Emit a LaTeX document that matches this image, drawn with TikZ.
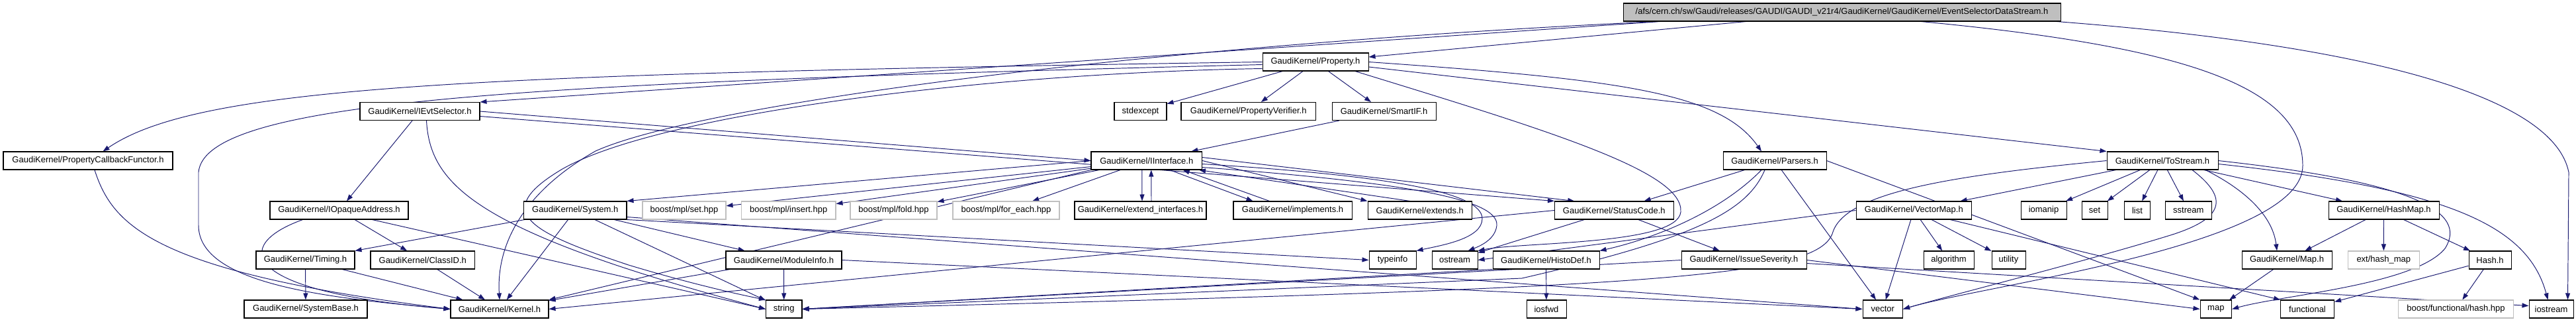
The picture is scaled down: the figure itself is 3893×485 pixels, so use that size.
\documentclass[tikz,border=0pt]{standalone}
\usepackage{fontspec}
\setmainfont{Liberation Sans}
\usetikzlibrary{arrows.meta, backgrounds}
\definecolor{edgeblue}{HTML}{191970}
\definecolor{boxgray}{HTML}{BFBFBF}
\tikzset{
  hdr/.style={draw=black, fill=white, line width=0.6pt, minimum height=0.54cm,
    inner xsep=1pt, inner ysep=0pt, font=\fontsize{7.4}{8}\selectfont},
  sysh/.style={hdr, draw=boxgray},
  mainfile/.style={hdr, fill=boxgray},
  wd/.style={minimum width=#1*0.02cm},
  dep/.style={draw=edgeblue, edgeblue, line width=0.55pt, -{Triangle[length=2mm,width=1.4mm]}},
}

\begin{document}
\begin{tikzpicture}[x=0.02cm, y=-0.02cm]
  \useasboundingbox (0,0) rectangle (3893,485);

  % File itself
  \node[mainfile, wd=661] (root) at (2783.5,18.5) {/afs/cern.ch/sw/Gaudi/releases/GAUDI/GAUDI\_v21r4/GaudiKernel/GaudiKernel/EventSelectorDataStream.h};

  % Rank 2 and 3
  \node[hdr, wd=160] (prop) at (1988,93.5) {GaudiKernel/Property.h};
  \node[hdr, wd=181] (evtsel) at (634.5,168) {GaudiKernel/IEvtSelector.h};
  \node[hdr, wd=79] (stdexc) at (1723.5,168) {stdexcept};
  \node[hdr, wd=203.5] (propver) at (1886.75,168) {GaudiKernel/PropertyVerifier.h};
  \node[hdr, wd=157] (smartif) at (2091.5,168) {GaudiKernel/SmartIF.h};

  % Rank 4
  \node[hdr, wd=256] (pcf) at (133,242.5) {GaudiKernel/PropertyCallbackFunctor.h};
  \node[hdr, wd=167.5] (iintf) at (1732.75,242.5) {GaudiKernel/IInterface.h};
  \node[hdr, wd=156] (parsers) at (2682,242.5) {GaudiKernel/Parsers.h};
  \node[hdr, wd=168] (tostream) at (3268,242.5) {GaudiKernel/ToStream.h};

  % Rank 5
  \node[hdr, wd=209] (opaque) at (512.5,317.5) {GaudiKernel/IOpaqueAddress.h};
  \node[hdr, wd=155.5] (system) at (869.25,317.5) {GaudiKernel/System.h};
  \node[sysh, wd=126] (mplset) at (1034,317.5) {boost/mpl/set.hpp};
  \node[sysh, wd=142.5] (mplins) at (1191.75,317.5) {boost/mpl/insert.hpp};
  \node[sysh, wd=131] (mplfold) at (1350.5,317.5) {boost/mpl/fold.hpp};
  \node[sysh, wd=161] (mplfe) at (1520.5,317.5) {boost/mpl/for\_each.hpp};
  \node[hdr, wd=199] (extif) at (1723.5,317.5) {GaudiKernel/extend\_interfaces.h};
  \node[hdr, wd=179] (impl) at (1953.5,317.5) {GaudiKernel/implements.h};
  \node[hdr, wd=157.5] (extends) at (2145.75,317.5) {GaudiKernel/extends.h};
  \node[hdr, wd=179.5] (status) at (2439.25,317.5) {GaudiKernel/StatusCode.h};
  \node[hdr, wd=174.6] (vmap) at (2892.3,317.5) {GaudiKernel/VectorMap.h};
  \node[hdr, wd=69] (iomanip) at (3088.5,317.5) {iomanip};
  \node[hdr, wd=39] (setH) at (3165.5,317.5) {set};
  \node[hdr, wd=39] (listH) at (3230,317.5) {list};
  \node[hdr, wd=70.6] (sstream) at (3307.3,317.5) {sstream};
  \node[hdr, wd=167] (hmap) at (3602.5,317.5) {GaudiKernel/HashMap.h};

  % Rank 6
  \node[hdr, wd=149] (timing) at (461.5,392.5) {GaudiKernel/Timing.h};
  \node[hdr, wd=157.5] (classid) at (638.75,392.5) {GaudiKernel/ClassID.h};
  \node[hdr, wd=175] (modinfo) at (1184.5,392.5) {GaudiKernel/ModuleInfo.h};
  \node[hdr, wd=71] (typeinfo) at (2104.5,392.5) {typeinfo};
  \node[hdr, wd=69] (ostream) at (2198.5,392.5) {ostream};
  \node[hdr, wd=161] (histo) at (2336.5,392.5) {GaudiKernel/HistoDef.h};
  \node[hdr, wd=189] (issue) at (2635.5,392.5) {GaudiKernel/IssueSeverity.h};
  \node[hdr, wd=76] (algo) at (2945,392.5) {algorithm};
  \node[hdr, wd=51] (utility) at (3035.5,392.5) {utility};
  \node[hdr, wd=136] (mapK) at (3456,392.5) {GaudiKernel/Map.h};
  \node[sysh, wd=107.4] (exthash) at (3602.3,392.5) {ext/hash\_map};
  \node[hdr, wd=64] (hashH) at (3763,392.5) {Hash.h};

  % Rank 7
  \node[hdr, wd=186] (sysbase) at (462,466.5) {GaudiKernel/SystemBase.h};
  \node[hdr, wd=148] (kernel) at (755,466.5) {GaudiKernel/Kernel.h};
  \node[hdr, wd=54.5] (string) at (1184.75,466.5) {string};
  \node[hdr, wd=60] (iosfwd) at (2337,466.5) {iosfwd};
  \node[hdr, wd=60.6] (vector) at (2845.3,466.5) {vector};
  \node[hdr, wd=47.6] (mapS) at (3348.8,466.5) {map};
  \node[hdr, wd=81] (functional) at (3487,466.5) {functional};
  \node[sysh, wd=174] (bhash) at (3711.5,466.5) {boost/functional/hash.hpp};
  \node[hdr, wd=67] (iostream) at (3855.5,466.5) {iostream};

  \begin{pgfonlayer}{background}
  % includes of the file itself
  \draw[dep] ([xshift=-5.5cm]root.south) -- (evtsel.north east);
  \draw[dep] ([xshift=-2.9cm]root.south) -- ([yshift=0.15cm]prop.east);
  \draw[dep] ([xshift=2.4cm]root.south) .. controls (3300,70) and (3480,130) .. (3480,250) .. controls (3480,370) and (3000,430) .. (vector.east);
  \draw[dep] ([xshift=6.5cm]root.south) .. controls (3600,70) and (3860,150) .. (3882,260) -- ([xshift=0.5cm]iostream.north);
  \draw[dep] ([xshift=-5.6cm]root.south) .. controls (1700,70) and (1050,160) .. (900,228) .. controls (790,290) and (750,370) .. (kernel.north);

  % Property.h
  \draw[dep] (prop.west) .. controls (700,112) and (300,130) .. ([xshift=0.45cm]pcf.north);
  \draw[dep] ([yshift=-0.08cm]prop.west) .. controls (800,125) and (310,150) .. (300,260) -- (300,340) .. controls (300,430) and (500,450) .. (kernel.west);
  \draw[dep] (prop) -- (stdexc);
  \draw[dep] (prop) -- (propver);
  \draw[dep] (prop) -- (smartif);
  \draw[dep] (prop.east) .. controls (2450,120) and (2600,140) .. ([xshift=-0.4cm]parsers.north);
  \draw[dep] ([yshift=-0.15cm]prop.east) -- (tostream.north west);
  \draw[dep] ([yshift=-0.2cm]prop.west) .. controls (1500,110) and (1000,170) .. (850,255) .. controls (740,320) and (800,350) .. (950,400) .. controls (1050,430) and (1120,445) .. (string.north west);
  \draw[dep] ([xshift=1.2cm]prop.south) .. controls (2350,200) and (2545,260) .. (2540,320) .. controls (2535,370) and (2300,365) .. (ostream.north east);

  % IEvtSelector.h
  \draw[dep] (evtsel.east) -- (iintf.west);
  \draw[dep] ([yshift=-0.15cm]evtsel.east) -- (status.north west);
  \draw[dep] (evtsel) -- (opaque);
  \draw[dep] ([xshift=0.2cm]evtsel.south) .. controls (650,280) and (720,350) .. (string.west);

  % PropertyCallbackFunctor.h
  \draw[dep] ([xshift=0.2cm]pcf.south) .. controls (170,340) and (230,410) .. (kernel.west);

  % IOpaqueAddress.h
  \draw[dep] ([xshift=-1.1cm]opaque.south) .. controls (350,370) and (360,440) .. (kernel.west);
  \draw[dep] (opaque) -- (classid);
  \draw[dep] ([xshift=1cm]opaque.south) -- (string.west);

  % ClassID.h and Timing.h
  \draw[dep] (classid) -- (kernel);
  \draw[dep] (timing) -- (sysbase);
  \draw[dep] (timing) -- (kernel);

  % System.h
  \draw[dep] (system) -- (timing.north east);
  \draw[dep] (system) -- (kernel);
  \draw[dep] (system) -- (modinfo);
  \draw[dep] (system) -- (string);
  \draw[dep] (system.south east) -- (typeinfo.west);
  \draw[dep] ([yshift=-0.2cm]system.east) -- (vector.west);

  % ModuleInfo.h
  \draw[dep] (modinfo) -- (kernel);
  \draw[dep] (modinfo) -- (string);
  \draw[dep] (modinfo.east) -- (vector.west);

  % SmartIF.h
  \draw[dep] (smartif) -- (iintf);

  % IInterface.h and its helpers
  \draw[dep] (iintf.west) -- (system.north east);
  \draw[dep] (iintf) -- (mplset);
  \draw[dep] (iintf) -- (mplins);
  \draw[dep] (iintf) -- (mplfold);
  \draw[dep] (iintf) -- (mplfe);
  \draw[dep] ([xshift=-0.14cm]iintf.south) -- ([xshift=0.05cm]extif.north);
  \draw[dep] ([xshift=0.33cm]extif.north) -- ([xshift=0.14cm]iintf.south);
  \draw[dep] ([xshift=0.7cm]iintf.south) -- ([xshift=-1.2cm]impl.north);
  \draw[dep] ([xshift=-0.7cm]impl.north) -- ([xshift=1.1cm]iintf.south);
  \draw[dep] (iintf.east) -- (extends.north west);
  \draw[dep] ([xshift=-0.3cm]extends.north) -- ([xshift=-0.1cm]iintf.south east);
  \draw[dep] ([yshift=0.1cm]iintf.east) -- ([xshift=-1.2cm]status.north);
  \draw[dep] ([yshift=-0.1cm]iintf.east) .. controls (2100,265) and (2240,290) .. (2240,330) .. controls (2240,360) and (2180,370) .. (typeinfo.north east);
  \draw[dep] ([yshift=-0.2cm]iintf.east) .. controls (2120,275) and (2265,300) .. (2262,340) .. controls (2260,360) and (2240,370) .. ([xshift=0.4cm]ostream.north);
  \draw[dep] (iintf.south west) -- (kernel.north east);

  % StatusCode.h
  \draw[dep] (status.west) -- (kernel.east);
  \draw[dep] (status) -- (ostream);
  \draw[dep] (status) -- (issue);

  % IssueSeverity.h
  \draw[dep] (issue.west) -- (string.east);
  \draw[dep] (issue.east) -- (mapS.west);
  \draw[dep] ([yshift=-0.1cm]issue.east) -- ([yshift=0.1cm]iostream.west);

  % HistoDef.h
  \draw[dep] (histo) -- (iosfwd);
  \draw[dep] (histo.south west) -- (string.east);

  % Parsers.h
  \draw[dep] (parsers) -- (status);
  \draw[dep] ([xshift=-0.4cm]parsers.south) .. controls (2600,320) and (2500,360) .. (histo.north east);
  \draw[dep] ([xshift=-0.3cm]parsers.south) .. controls (2640,320) and (2560,360) .. (2300,420) -- (string.east);
  \draw[dep] (parsers) -- (vector);
  \draw[dep] (parsers.east) -- (mapS.north west);

  % ToStream.h
  \draw[dep] (tostream) -- (vmap);
  \draw[dep] (tostream) -- (iomanip);
  \draw[dep] (tostream) -- (setH);
  \draw[dep] (tostream) -- (listH);
  \draw[dep] (tostream) -- (sstream);
  \draw[dep] (tostream) -- (hmap);
  \draw[dep] ([xshift=1.3cm]tostream.south) .. controls (3400,290) and (3435,330) .. ([xshift=-0.3cm]mapK.north);
  \draw[dep] (tostream.east) .. controls (3650,275) and (3730,320) .. (3695,375) .. controls (3650,430) and (3450,445) .. (mapS.east);
  \draw[dep] ([yshift=-0.1cm]tostream.east) .. controls (3700,285) and (3820,340) .. ([xshift=-0.1cm]iostream.north);
  \draw[dep] (tostream.west) .. controls (2950,265) and (2790,290) .. (2770,350) .. controls (2750,420) and (2500,435) .. (string.east);
  \draw[dep] ([xshift=0.9cm]tostream.south) .. controls (3370,300) and (3360,330) .. (3280,355) .. controls (3150,395) and (2950,445) .. (vector.east);

  % VectorMap.h
  \draw[dep] (vmap) -- (vector);
  \draw[dep] (vmap) -- (algo);
  \draw[dep] (vmap) -- (utility);
  \draw[dep] ([xshift=1.1cm]vmap.south) -- (functional.north west);
  \draw[dep] (vmap.west) -- (ostream.east);

  % HashMap.h, Map.h, Hash.h
  \draw[dep] (hmap) -- (mapK);
  \draw[dep] (hmap) -- (exthash);
  \draw[dep] (hmap) -- (hashH);
  \draw[dep] (mapK) -- (mapS);
  \draw[dep] (hashH) -- (functional);
  \draw[dep] (hashH) -- (bhash);
  \end{pgfonlayer}
\end{tikzpicture}
\end{document}
